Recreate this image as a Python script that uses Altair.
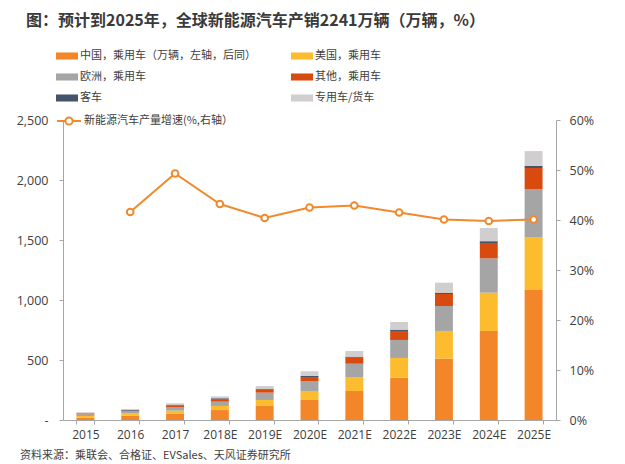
import altair as alt
import pandas as pd

years = ["2015", "2016", "2017", "2018E", "2019E", "2020E", "2021E", "2022E", "2023E", "2024E", "2025E"]
china = [20, 36, 52, 83, 117, 167, 242, 353, 511, 742, 1083]
us = [13, 20, 26, 34, 50, 75, 116, 164, 231, 319, 439]
europe = [14, 16, 30, 36, 61, 83, 111, 150, 208, 286, 400]
other = [5, 5, 14, 16, 25, 33, 50, 75, 100, 128, 178]
bus = [5, 6, 6, 12, 8, 9, 9, 11, 11, 15, 17]
special = [7, 9, 11, 16, 22, 39, 47, 64, 83, 110, 124]
growth = [None, 41.6, 49.3, 43.2, 40.4, 42.5, 42.9, 41.5, 40.1, 39.8, 40.1]

series_names = ["中国，乘用车（万辆，左轴，后同）", "美国，乘用车", "欧洲，乘用车",
                "其他，乘用车", "客车", "专用车/货车"]
series_colors = ["#F4862A", "#FCBC2E", "#A5A5A5", "#D84A0E", "#44546A", "#D0CECE"]
# legend is laid out column by column: order so that it reads row by row
legend_order = [0, 2, 4, 1, 3, 5]
line_name = "新能源汽车产量增速(%,右轴）"
line_color = "#F08A2C"

title_text = "图：预计到2025年，全球新能源汽车产销2241万辆（万辆，%）"
source_text = "资料来源：乘联会、合格证、EVSales、天风证券研究所"

rows = []
for i, (name, vals) in enumerate(zip(series_names, [china, us, europe, other, bus, special])):
    for y, v in zip(years, vals):
        rows.append({"year": y, "series": name, "value": v, "order": i})
bars_df = pd.DataFrame(rows)

line_df = pd.DataFrame({"year": years, "growth": growth, "name": line_name}).dropna()

CJK = "Noto Sans CJK SC"
NUM = "Open Sans"
AX = "#A6A6A6"
LBL = "#404040"

xscale = alt.Scale(domain=years, paddingInner=0.6, paddingOuter=0.3)
xaxis = alt.Axis(title=None, labelAngle=0, tickBand="extent", domainColor=AX, tickColor=AX,
                 tickSize=4, labelFont=NUM, labelFontSize=12, labelColor=LBL, labelPadding=5)

bars = alt.Chart(bars_df).mark_bar().encode(
    x=alt.X("year:N", scale=xscale, axis=xaxis, sort=years),
    y=alt.Y("value:Q", stack="zero", scale=alt.Scale(domain=[0, 2500], nice=False),
            axis=alt.Axis(title=None, orient="left", values=[0, 500, 1000, 1500, 2000, 2500],
                          labelExpr="datum.value == 0 ? '-' : format(datum.value, ',')",
                          grid=False, domainColor=AX, tickColor=AX, tickSize=4,
                          labelFont=NUM, labelFontSize=12.5, labelColor=LBL, labelPadding=11)),
    color=alt.Color("series:N",
                    scale=alt.Scale(domain=[series_names[i] for i in legend_order],
                                    range=[series_colors[i] for i in legend_order]),
                    legend=alt.Legend(title=None, orient="none", legendX=-7, legendY=-75,
                                      columns=2, symbolType="M-1,-0.32H1V0.32H-1Z",
                                      symbolSize=484, symbolStrokeWidth=0, labelOffset=2,
                                      columnPadding=35, rowPadding=5, padding=0,
                                      labelFont=CJK, labelFontSize=11, labelColor=LBL,
                                      labelLimit=400)),
    order=alt.Order("order:Q", sort="ascending"),
)

line = alt.Chart(line_df).mark_line(
    strokeWidth=2,
    point=alt.OverlayMarkDef(filled=True, fill="white", size=45, strokeWidth=2),
).encode(
    x=alt.X("year:N", scale=xscale, axis=xaxis, sort=years),
    y=alt.Y("growth:Q", scale=alt.Scale(domain=[0, 60], nice=False),
            axis=alt.Axis(title=None, orient="right", values=[0, 10, 20, 30, 40, 50, 60],
                          labelExpr="datum.value + '%'", grid=False, domainColor=AX,
                          tickColor=AX, tickSize=4, labelFont=NUM, labelFontSize=12.5,
                          labelColor=LBL, labelPadding=9)),
    stroke=alt.Stroke("name:N", scale=alt.Scale(range=[line_color]),
                      legend=alt.Legend(title=None, orient="none", legendX=-7, legendY=-12,
                                        symbolType="M-1,0H-0.3M0.3,0H1M0.3,0A0.3,0.3,0,1,1,-0.3,0A0.3,0.3,0,1,1,0.3,0",
                                        symbolSize=576, symbolStrokeWidth=2,
                                        symbolFillColor="white", labelOffset=2, padding=0,
                                        labelFont=CJK, labelFontSize=11, labelColor=LBL,
                                        labelLimit=400)),
)

title = alt.Chart(pd.DataFrame({"t": [title_text]})).mark_text(
    align="left", baseline="middle", fontSize=16, fontWeight="bold", font=CJK, color="#3A3A3A"
).encode(text="t:N", x=alt.value(-37), y=alt.value(-99))

source = alt.Chart(pd.DataFrame({"t": [source_text]})).mark_text(
    align="left", baseline="middle", fontSize=11, font=CJK, color="#404040"
).encode(text="t:N", x=alt.value(-43), y=alt.value(336))

chart = alt.layer(bars, line, title, source).resolve_scale(y="independent", stroke="independent").properties(
    width=493, height=300,
    autosize=alt.AutoSizeParams(type="none"),
    padding={"left": 55, "top": 112, "right": 61, "bottom": 44},
).configure_view(stroke=None)

chart.save("out.html", embed_options={"renderer": "svg", "actions": False})
